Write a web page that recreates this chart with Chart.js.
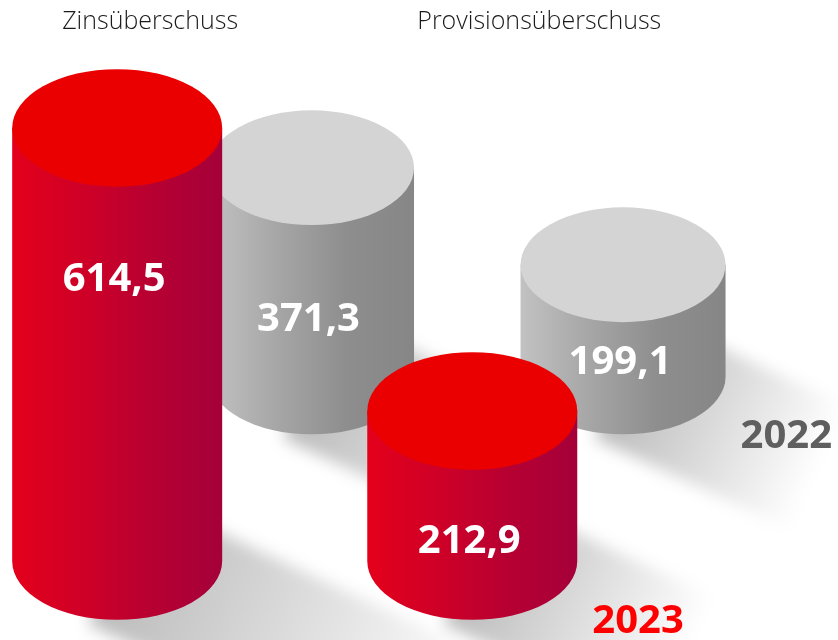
<!DOCTYPE html>
<html>
<head>
<meta charset="utf-8">
<script src="https://cdn.jsdelivr.net/npm/chart.js@4.4.1/dist/chart.umd.min.js"></script>
<style>
  html, body { margin: 0; padding: 0; background: #fff; }
  #wrap { width: 838px; height: 640px; }
</style>
</head>
<body>
<div id="wrap"><canvas id="cylChart"></canvas></div>
<script>
'use strict';

// Daten (Mio. EUR)
const categories = ['Zinsüberschuss', 'Provisionsüberschuss'];
const years = ['2023', '2022'];
const values2023 = [614.5, 212.9];
const values2022 = [371.3, 199.1];

const RY = 0.56; // Verhältnis Ellipsenhöhe / Radius

const looks = [
  { side: ['#e4001b', '#cf0027', '#b70032', '#a5003a'], top: '#ea0000', year: '#ff0000' },
  { side: ['#c2c2c2', '#a6a6a6', '#8e8e8e', '#868686'], top: '#d4d4d4', year: '#5f5f5f' }
];

const fmt = v => v.toFixed(1).replace('.', ',');

function drawShadow(ctx, bar) {
  const rx = bar.width / 2, ry = rx * RY;
  const h = bar.base - bar.y;
  const len = h * 0.5 + 160;
  const ang = 25 * Math.PI / 180;
  const dx = Math.cos(ang) * len, dy = Math.sin(ang) * len;
  const half = Math.sqrt((rx * Math.sin(ang)) ** 2 + (ry * Math.cos(ang)) ** 2);
  const g = ctx.createLinearGradient(bar.x, bar.base, bar.x + dx, bar.base + dy);
  g.addColorStop(0, 'rgba(0,0,0,0.27)');
  g.addColorStop(1, 'rgba(0,0,0,0)');
  ctx.save();
  ctx.filter = 'blur(8px)';
  ctx.strokeStyle = g;
  ctx.lineWidth = half * 2;
  ctx.beginPath();
  ctx.moveTo(bar.x, bar.base);
  ctx.lineTo(bar.x + dx, bar.base + dy);
  ctx.stroke();
  ctx.restore();
}

function drawCylinder(ctx, bar, look) {
  const rx = bar.width / 2, ry = rx * RY;
  const cx = bar.x, top = bar.y, base = bar.base;
  const side = ctx.createLinearGradient(cx - rx, 0, cx + rx, 0);
  look.side.forEach((c, i) => side.addColorStop(i / (look.side.length - 1), c));
  ctx.save();
  ctx.fillStyle = side;
  ctx.beginPath();
  ctx.moveTo(cx - rx, top);
  ctx.lineTo(cx - rx, base);
  ctx.ellipse(cx, base, rx, ry, 0, Math.PI, 0, true);
  ctx.lineTo(cx + rx, top);
  ctx.closePath();
  ctx.fill();
  ctx.fillStyle = look.top;
  ctx.beginPath();
  ctx.ellipse(cx, top, rx, ry, 0, 0, Math.PI * 2);
  ctx.fill();
  ctx.restore();
}

// 3D-Zylinder statt flacher Balken
const cylinderPlugin = {
  id: 'cylinders',
  afterDatasetsDraw(chart) {
    const ctx = chart.ctx;
    const metas = [chart.getDatasetMeta(0), chart.getDatasetMeta(1)];

    // Schatten zuerst, dann hintere Reihe (2022), dann vordere (2023)
    metas.forEach(meta => meta.data.forEach(bar => drawShadow(ctx, bar)));

    [1, 0].forEach(d => {
      const meta = metas[d];
      const ds = chart.data.datasets[d];
      meta.data.forEach((bar, i) => {
        drawCylinder(ctx, bar, looks[d]);
        const h = bar.base - bar.y;
        ctx.save();
        ctx.font = 'bold 40px "Noto Sans"';
        ctx.fillStyle = '#ffffff';
        ctx.textAlign = 'center';
        ctx.textBaseline = 'middle';
        ctx.fillText(fmt(ds.data[i].y), bar.x - 3, bar.y + Math.min(152, h * 0.87));
        ctx.restore();
      });
      // Jahr neben dem letzten Zylinder
      const last = meta.data[meta.data.length - 1];
      const rx = last.width / 2;
      ctx.save();
      ctx.font = 'bold 40px "Noto Sans"';
      ctx.fillStyle = looks[d].year;
      ctx.textAlign = 'left';
      ctx.textBaseline = 'middle';
      ctx.fillText(ds.label, last.x + rx + 15, last.base + rx * RY + 2);
      ctx.restore();
    });

    // Überschriften
    ctx.save();
    ctx.font = '300 25px "Open Sans"';
    ctx.fillStyle = '#1a1a1a';
    ctx.textAlign = 'left';
    ctx.textBaseline = 'middle';
    metas[0].data.forEach((bar, i) => {
      ctx.fillText(categories[i], bar.x - bar.width / 2 + 50, 22);
    });
    ctx.restore();
  }
};

const ctx = document.getElementById('cylChart');
const myChart = new Chart(ctx, {
  type: 'bar',
  data: {
    datasets: [
      {
        label: years[0],
        data: values2023.map((v, i) => ({ x: i, y: v })),
        xAxisID: 'x',
        yAxisID: 'y',
        barThickness: 210,
        grouped: false,
        backgroundColor: 'rgba(0,0,0,0)'
      },
      {
        label: years[1],
        data: values2022.map((v, i) => ({ x: i, y: v })),
        xAxisID: 'x2',
        yAxisID: 'y2',
        barThickness: 205,
        grouped: false,
        backgroundColor: 'rgba(0,0,0,0)'
      }
    ]
  },
  options: {
    responsive: true,
    maintainAspectRatio: false,
    animation: false,
    layout: { padding: 0 },
    plugins: {
      legend: { display: false },
      tooltip: { enabled: false }
    },
    scales: {
      x: { type: 'linear', axis: 'x', position: 'bottom', offset: false, min: -0.33, max: 2.03, display: false },
      x2: { type: 'linear', axis: 'x', position: 'bottom', offset: false, min: -1, max: 1.69, display: false },
      y: { type: 'linear', axis: 'y', position: 'left', min: -112, max: 796, display: false },
      y2: { type: 'linear', axis: 'y', position: 'left', min: -467, max: 669, display: false }
    }
  },
  plugins: [cylinderPlugin]
});
</script>
</body>
</html>
